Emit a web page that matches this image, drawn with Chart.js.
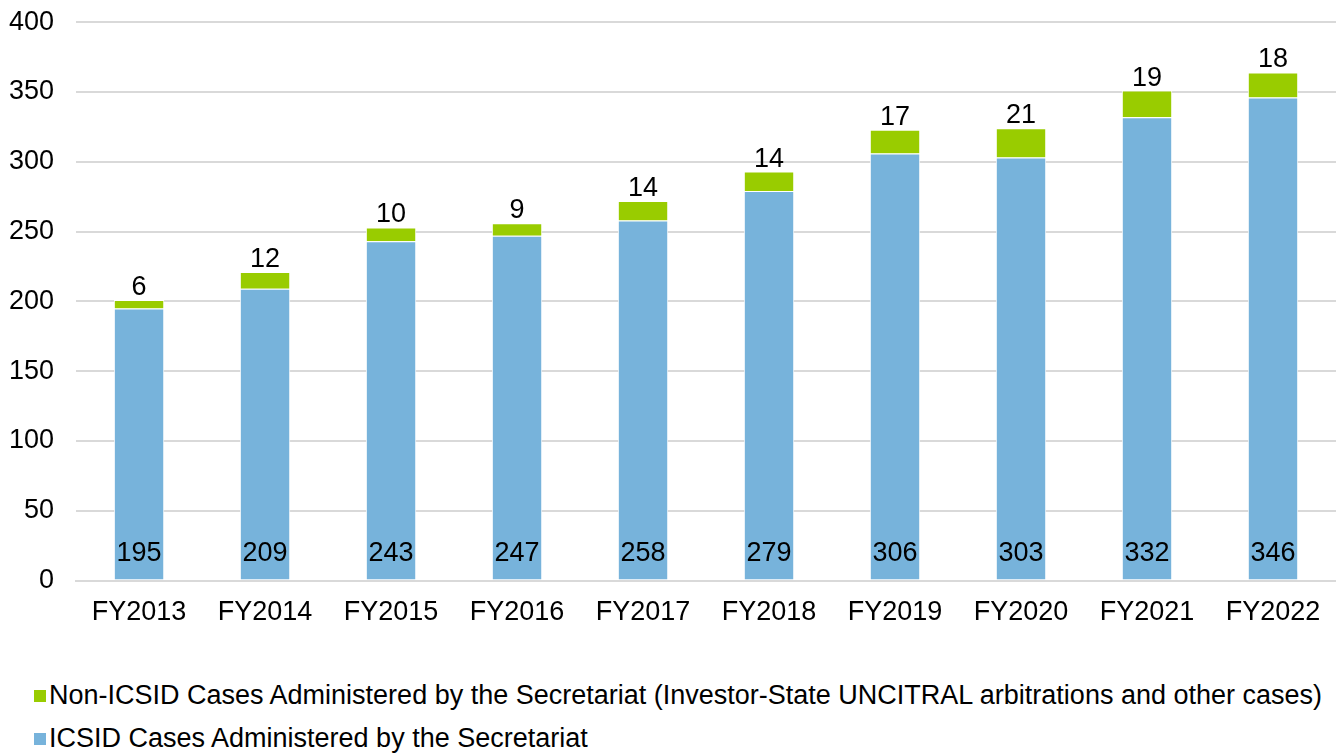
<!DOCTYPE html>
<html>
<head>
<meta charset="utf-8">
<script src="https://cdn.jsdelivr.net/npm/chart.js@4.4.1/dist/chart.umd.min.js"></script>
<style>
  html, body { margin: 0; padding: 0; background: #fff; }
  body { width: 1336px; height: 753px; position: relative; overflow: hidden; font-family: "Liberation Sans", Arial, sans-serif; }
  #wrap { position: absolute; left: 0; top: -16px; width: 1336px; height: 665px; }
  .legend { position: absolute; left: 34px; font-size: 27px; color: #000; }
  .legend div { display: flex; align-items: center; height: 43px; white-space: nowrap; }
  .legend span.box { display: inline-block; width: 12px; height: 12px; margin-right: 3px; }
</style>
</head>
<body>
<div id="wrap"><canvas id="casesChart"></canvas></div>
<div class="legend" id="legend" style="top: 674px;"></div>
<script>
// --- DATA ---
const years = ["FY2013", "FY2014", "FY2015", "FY2016", "FY2017", "FY2018", "FY2019", "FY2020", "FY2021", "FY2022"];
const icsidCases = [195, 209, 243, 247, 258, 279, 306, 303, 332, 346];
const nonIcsidCases = [6, 12, 10, 9, 14, 14, 17, 21, 19, 18];
const yTicks = [0, 50, 100, 150, 200, 250, 300, 350, 400];

const icsidLabel = "ICSID Cases Administered by the Secretariat";
const nonIcsidLabel = "Non-ICSID Cases Administered by the Secretariat (Investor-State UNCITRAL arbitrations and other cases)";

const BLUE = "#77B3DB";
const GREEN = "#99CC00";
const FONT = "'Liberation Sans', Arial, sans-serif";
const FONT_SIZE = 27;

// value labels: blue at bottom of bar, green above the stack
const valueLabels = {
  id: "valueLabels",
  afterDatasetsDraw(chart) {
    const ctx = chart.ctx;
    ctx.save();
    ctx.font = FONT_SIZE + "px " + FONT;
    ctx.fillStyle = "#000";
    ctx.textAlign = "center";

    const blueMeta = chart.getDatasetMeta(0);
    blueMeta.data.forEach((bar, i) => {
      ctx.textBaseline = "middle";
      ctx.fillText(icsidCases[i], bar.x, bar.base - 26);
    });

    const greenMeta = chart.getDatasetMeta(1);
    greenMeta.data.forEach((bar, i) => {
      ctx.textBaseline = "bottom";
      ctx.fillText(nonIcsidCases[i], bar.x, bar.y + 1);
    });
    ctx.restore();
  },
};

function renderChart() {
  const ctx = document.getElementById("casesChart").getContext("2d");

  new Chart(ctx, {
    type: "bar",
    data: {
      labels: years,
      datasets: [
        {
          label: icsidLabel,
          data: icsidCases,
          backgroundColor: BLUE,
          borderColor: "#ffffff",
          borderWidth: 1,
          barPercentage: 0.8,
          categoryPercentage: 0.5,
        },
        {
          label: nonIcsidLabel,
          data: nonIcsidCases,
          backgroundColor: GREEN,
          borderColor: "#ffffff",
          borderWidth: 1,
          barPercentage: 0.8,
          categoryPercentage: 0.5,
        },
      ],
    },
    options: {
      responsive: true,
      maintainAspectRatio: false,
      animation: false,
      layout: { padding: { left: -13, right: 0, top: 6, bottom: 12 } },
      plugins: {
        legend: { display: false },
        tooltip: { enabled: false },
      },
      scales: {
        x: {
          stacked: true,
          grid: { display: false },
          border: { display: true, color: "#d9d9d9", width: 2 },
          ticks: { color: "#000", font: { family: FONT, size: FONT_SIZE }, padding: 8 },
        },
        y: {
          stacked: true,
          min: 0,
          max: 400,
          afterBuildTicks: (axis) => {
            axis.ticks = yTicks.map((v) => ({ value: v }));
          },
          grid: { color: "#d9d9d9", lineWidth: 2, drawTicks: false },
          border: { display: false },
          ticks: { color: "#000", font: { family: FONT, size: FONT_SIZE }, padding: 22 },
        },
      },
    },
    plugins: [valueLabels],
  });

  // legend, top item is the green series
  const legend = document.getElementById("legend");
  legend.innerHTML = [
    { color: GREEN, text: nonIcsidLabel },
    { color: BLUE, text: icsidLabel },
  ]
    .map((item) => `<div><span class="box" style="background:${item.color}"></span>${item.text}</div>`)
    .join("");
}

renderChart();
</script>
</body>
</html>
